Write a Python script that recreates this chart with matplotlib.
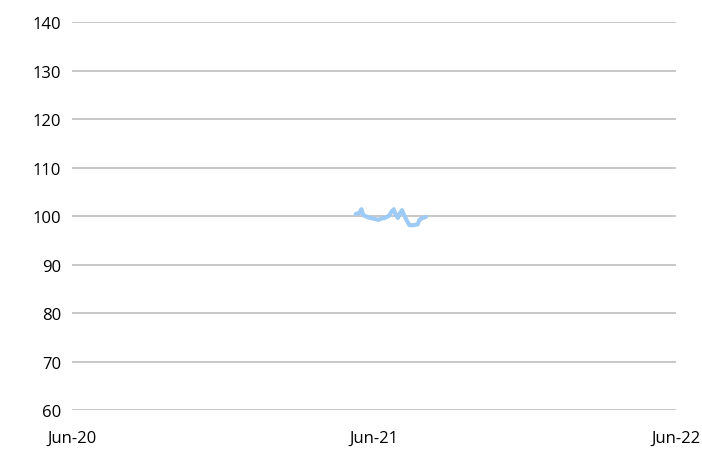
import pandas as pd
import matplotlib.pyplot as plt
import matplotlib.dates as mdates

# data
dates = ["2021-05-10", "2021-05-14", "2021-05-17", "2021-05-19", "2021-05-24",
         "2021-05-28", "2021-06-02", "2021-06-06", "2021-06-09", "2021-06-14",
         "2021-06-19", "2021-06-22", "2021-06-25", "2021-06-27", "2021-06-30",
         "2021-07-02", "2021-07-05", "2021-07-07", "2021-07-11", "2021-07-14",
         "2021-07-19", "2021-07-24", "2021-07-26", "2021-07-30", "2021-08-03"]
values = [100.4, 100.6, 101.4, 100.2, 99.8,
          99.6, 99.4, 99.2, 99.4, 99.6,
          100.0, 100.8, 101.4, 100.4, 99.6,
          100.4, 101.2, 100.4, 99.0, 98.1,
          98.1, 98.3, 99.2, 99.6, 99.8]
xticks = ["2020-06-01", "2021-06-01", "2022-06-01"]
yticks = [60, 70, 80, 90, 100, 110, 120, 130, 140]

plt.rcParams['font.family'] = ['Open Sans', 'DejaVu Sans']

fig = plt.figure(figsize=(7.02, 4.52), dpi=100)
ax = fig.add_axes([0.1026, 0.0907, 0.860, 0.8584])

ax.plot(pd.to_datetime(dates), values, color="#9DCBF5", linewidth=3, solid_capstyle="round")

ax.set_ylim(60, 140)
ax.set_yticks(yticks)
ax.set_xlim(pd.Timestamp("2020-06-01"), pd.Timestamp("2022-06-01"))
ax.set_xticks(pd.to_datetime(xticks))
ax.xaxis.set_major_formatter(mdates.DateFormatter("%b-%y"))

ax.grid(axis="y", color="#BFBFBF", linewidth=1.2)
ax.set_axisbelow(True)
for s in ax.spines.values():
    s.set_visible(False)
ax.tick_params(axis="both", length=0, labelsize=12, colors="black")
ax.tick_params(axis="y", pad=8)
ax.tick_params(axis="x", pad=14)

fig.savefig("out.png", dpi=100)
